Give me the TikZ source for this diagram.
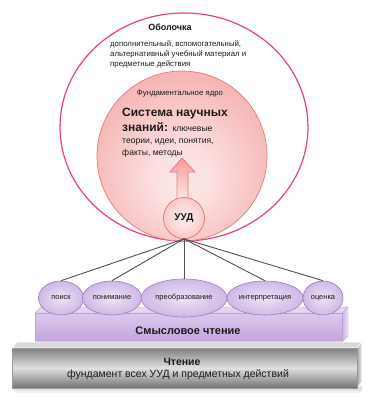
\documentclass[tikz,border=0pt]{standalone}
\usepackage{fontspec}
\setmainfont{Liberation Sans}
\usetikzlibrary{shapes.geometric}
\definecolor{shellpink}{HTML}{E8407F}
\definecolor{coreedge}{HTML}{E67A7A}
\definecolor{uudedge}{HTML}{E27474}
\definecolor{elledge}{HTML}{9C7CBE}
\definecolor{linegray}{HTML}{505050}
\definecolor{txt}{HTML}{1A1A1A}
\pgfdeclareradialshading{coreshade}{\pgfpoint{0bp}{-8bp}}{rgb(0bp)=(0.99,0.91,0.91); rgb(8bp)=(0.99,0.88,0.88); rgb(30bp)=(0.96,0.7,0.7); rgb(48bp)=(0.92,0.55,0.55); rgb(60bp)=(0.92,0.55,0.55)}
\pgfdeclareradialshading{uudshade}{\pgfpoint{0bp}{0bp}}{rgb(0bp)=(1,0.93,0.93); rgb(15bp)=(0.99,0.85,0.85); rgb(50bp)=(0.95,0.62,0.62)}
\pgfdeclareradialshading{ellshade}{\pgfpoint{0bp}{0bp}}{rgb(0bp)=(0.93,0.89,0.97); rgb(15bp)=(0.86,0.79,0.93); rgb(50bp)=(0.7,0.56,0.82)}
\tikzset{
  ell/.style={ellipse, draw=elledge, line width=0.6pt, shading=ellshade, inner sep=0pt, font=\fontsize{7.5}{9}\selectfont, text=txt},
  conn/.style={draw=linegray, line width=0.9pt},
  txtline/.style={anchor=base west, inner sep=0pt, text=txt},
}
\begin{document}
\begin{tikzpicture}[x=1pt,y=-1pt]
\useasboundingbox (0,0) rectangle (377,400);
% shell
\node[ellipse, draw=shellpink, line width=1.2pt, minimum width=248pt, minimum height=228pt, inner sep=0pt] (shell) at (184,127) {};
\node[anchor=base, inner sep=0pt, font=\fontsize{9}{10}\bfseries\selectfont, text=txt] (shelltitle) at (170,30) {Оболочка};
\node[txtline, font=\fontsize{7.8}{9}\selectfont] (s1) at (110,46) {дополнительный, вспомогательный,};
\node[txtline, font=\fontsize{7.8}{9}\selectfont] (s2) at (110,56) {альтернативный учебный материал и};
\node[txtline, font=\fontsize{7.8}{9}\selectfont] (s3) at (110,66) {предметные действия};
% core
\node[circle, minimum size=170pt, draw=coreedge, line width=0.7pt, shading=coreshade, inner sep=0pt] (core) at (182,156) {};
\node[anchor=base, inner sep=0pt, font=\fontsize{7.8}{9}\selectfont, text=txt] (coretitle) at (180,95) {Фундаментальное ядро};
\node[txtline, font=\fontsize{12}{14}\bfseries\selectfont] (c1) at (122,116) {Система научных};
\node[txtline, font=\fontsize{12}{14}\bfseries\selectfont] (c2) at (122,131) {знаний: \mdseries\fontsize{8.6}{10}\selectfont ключевые};
\node[txtline, font=\fontsize{8.6}{10}\selectfont] (c3) at (122,143) {теории, идеи, понятия,};
\node[txtline, font=\fontsize{8.6}{10}\selectfont] (c4) at (122,155) {факты, методы};
% arrow
\path[draw=coreedge, line width=0.7pt, top color=red!40!white, bottom color=red!8!white]
  (182,158) -- (195,172) -- (188,172) -- (188,202) -- (177,202) -- (177,172) -- (170,172) -- cycle;
% UUD
\node[circle, minimum size=41pt, draw=uudedge, line width=0.7pt, shading=uudshade, inner sep=0pt, font=\fontsize{10}{12}\bfseries\selectfont, text=txt] (uud) at (184,218) {УУД};
% purple bar
\path[fill={rgb,1:red,0.89;green,0.84;blue,0.94}, draw=elledge!60, line width=0.4pt] (35,313) -- (41,307) -- (348,307) -- (342,313) -- cycle;
\path[draw=elledge!60, line width=0.4pt, left color={rgb,1:red,0.8;green,0.7;blue,0.89}, right color={rgb,1:red,0.93;green,0.89;blue,0.97}] (342,313) -- (348,307) -- (348,336) -- (342,342) -- cycle;
\path[draw=elledge!70, line width=0.4pt, top color={rgb,1:red,0.86;green,0.79;blue,0.93}, bottom color={rgb,1:red,0.76;green,0.64;blue,0.87}] (35,313) rectangle (342,342);
\node[font=\fontsize{11}{13}\bfseries\selectfont, text=txt, inner sep=0pt] (smysl) at (188,331) {Смысловое чтение};
% ellipses
\node[ell, minimum width=45pt, minimum height=34pt] (poisk) at (61,298) {поиск};
\node[ell, minimum width=59pt, minimum height=34pt] (ponim) at (112,298) {понимание};
\node[ell, minimum width=86pt, minimum height=38pt] (preobr) at (184,298) {преобразование};
\node[ell, minimum width=76pt, minimum height=34pt] (interp) at (265,298) {интерпретация};
\node[ell, minimum width=40pt, minimum height=34pt] (ocenka) at (323,298) {оценка};
% connectors
\draw[conn] (uud.south) -- (poisk.north);
\draw[conn] (uud.south) -- (ponim.north);
\draw[conn] (uud.south) -- (preobr.north);
\draw[conn] (uud.south) -- (interp.north);
\draw[conn] (uud.south) -- (ocenka.north);
% grey bar shadow
\fill[black, opacity=0.06] (14,386) rectangle (362,393);
\fill[black, opacity=0.06] (14,386) rectangle (362,391);
% grey bar
\path[fill=gray!30, draw=white, line width=0.6pt] (12,348) -- (17,342) -- (362,342) -- (357,348) -- cycle;
\path[draw=white, line width=0.6pt, left color=gray!70, right color=gray!15] (357,348) -- (362,342) -- (362,382) -- (357,388) -- cycle;
\path[draw=gray!80, line width=0.4pt, top color=black!50, bottom color=black!55, middle color=black!12] (12,348) rectangle (357,388);
\node[font=\fontsize{10.5}{12}\bfseries\selectfont, text=txt, inner sep=0pt] (chtenie) at (182,362) {Чтение};
\node[font=\fontsize{10.5}{12}\selectfont, text=txt, inner sep=0pt] (fund) at (178,375) {фундамент всех УУД и предметных действий};
\end{tikzpicture}
\end{document}
